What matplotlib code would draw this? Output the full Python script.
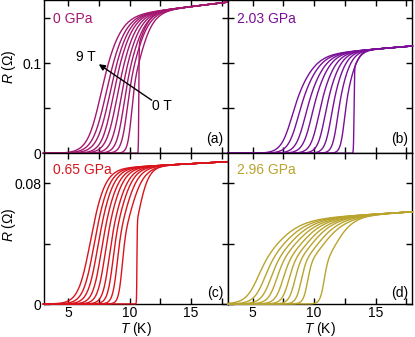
import numpy as np
import matplotlib
matplotlib.use("Agg")
import matplotlib.pyplot as plt
from matplotlib.ticker import MultipleLocator

plt.rcParams['font.family'] = ['Liberation Sans', 'DejaVu Sans']
plt.rcParams['mathtext.fontset'] = 'custom'
plt.rcParams['mathtext.it'] = 'Liberation Sans:italic'
plt.rcParams['mathtext.rm'] = 'Liberation Sans'
plt.rcParams['font.size'] = 10

# magnetic field of each curve (T)
fields = [0, 1, 2, 3, 4, 5, 6, 7, 8, 9]
pressures = ['0 GPa', '2.03 GPa', '0.65 GPa', '2.96 GPa']
tags = ['(a)', '(b)', '(c)', '(d)']
colors = ['#a3176f', '#7a0f98', '#d8141c', '#b9a42e']

# transition midpoint (K) for 0 T ... 9 T
tmid_a = [10.75, 10.43, 10.10, 9.81, 9.51, 9.19, 8.86, 8.56, 8.24, 7.83]
tmid_b = [13.25, 12.65, 12.10, 11.60, 11.10, 10.60, 10.05, 9.55, 9.00, 8.50]
tmid_c = [10.60, 9.67, 9.27, 8.92, 8.60, 8.24, 7.91, 7.57, 7.24, 6.89]
tmid_d = [11.15, 9.88, 9.39, 8.90, 8.44, 7.98, 7.49, 7.03, 6.54, 6.00]

# width of the foot (below midpoint) and of the knee (above midpoint), K
wlow_a = [0.03, 0.42, 0.59, 0.71, 0.83, 0.95, 0.98, 1.10, 1.15, 1.15]
whigh_a = [0.95, 1.25, 1.28, 1.30, 1.33, 1.36, 1.39, 1.42, 1.45, 1.48]
wlow_b = [0.04, 0.40, 0.50, 0.60, 0.68, 0.75, 0.82, 0.88, 0.94, 1.00]
whigh_b = [0.60, 0.80, 0.90, 1.00, 1.10, 1.20, 1.30, 1.40, 1.50, 1.60]
wlow_c = [0.03, 0.40, 0.48, 0.55, 0.62, 0.70, 0.77, 0.85, 0.92, 1.00]
whigh_c = [0.90, 1.25, 1.22, 1.20, 1.20, 1.18, 1.18, 1.16, 1.16, 1.16]
wlow_d = [0.45, 0.50, 0.58, 0.66, 0.74, 0.82, 0.90, 1.00, 1.10, 1.22]
whigh_d = [1.70, 2.30, 2.30, 2.30, 2.35, 2.35, 2.40, 2.40, 2.40, 2.40]

# fraction of R_n reached by the sharp jump (1 = smooth transition)
jump_a = [0.78, 1, 1, 1, 1, 1, 1, 1, 1, 1]
jump_b = [0.83, 1, 1, 1, 1, 1, 1, 1, 1, 1]
jump_c = [0.60, 1, 1, 1, 1, 1, 1, 1, 1, 1]
jump_d = [1, 1, 1, 1, 1, 1, 1, 1, 1, 1]

# normal state resistance: R at T_ref (Ohm), T_ref (K), slope (Ohm/K)
rn_a = (0.158, 12.0, 0.00167)
rn_b = (0.115, 14.3, 0.00115)
rn_c = (0.0922, 13.0, 0.00045)
rn_d = (0.0597, 15.0, 0.0005)

panels = [
    (tmid_a, wlow_a, whigh_a, jump_a, rn_a),
    (tmid_b, wlow_b, whigh_b, jump_b, rn_b),
    (tmid_c, wlow_c, whigh_c, jump_c, rn_c),
    (tmid_d, wlow_d, whigh_d, jump_d, rn_d),
]


def curve(T, tm, wl, wh, sj, rn):
    r0, tref, slope = rn
    base = r0 + slope * (T - tref)
    if sj < 1:
        # vertical jump, then a rounded approach to the normal state
        s = sj * 0.5 * (1 + np.tanh((T - tm) / wl)) \
            + (1 - sj) * np.clip(np.tanh((T - tm) / wh), 0, None)
    else:
        # width grows smoothly from the foot to the knee
        w = wl + (wh - wl) * 0.5 * (1 + np.tanh((T - tm) / wl))
        s = 0.5 * (1 + np.tanh((T - tm) / w))
    return base * s


W, H = 415, 337
fig = plt.figure(figsize=(W / 100, H / 100), dpi=100)
x0, x1, aw = 43.5, 228.0, 184.4
boxes = [
    (x0, 0.3, 153.0), (x1, 0.3, 153.0),
    (x0, 153.3, 150.7), (x1, 153.3, 150.7),
]
axes = []
for (px, py, ph) in boxes:
    axes.append(fig.add_axes([px / W, (H - py - ph) / H, aw / W, ph / H]))

T = np.linspace(3, 18, 3001)

for i, ax in enumerate(axes):
    tm, wl, wh, sj, rn = panels[i]
    for k in range(len(fields)):
        ax.plot(T, curve(T, tm[k], wl[k], wh[k], sj[k], rn), color=colors[i],
                lw=1.0, zorder=3, clip_on=False)
    ax.set_xlim(3, 18)
    ax.xaxis.set_major_locator(MultipleLocator(5))
    ax.xaxis.set_minor_locator(MultipleLocator(2.5))
    if i < 2:
        ax.set_ylim(0, 0.17)
        ax.set_yticks([0, 0.1], ['0', '0.1'])
        ax.yaxis.set_minor_locator(MultipleLocator(0.05))
    else:
        ax.set_ylim(0, 0.1)
        ax.set_yticks([0, 0.08], ['0', '0.08'])
        ax.yaxis.set_minor_locator(MultipleLocator(0.04))
    ax.tick_params(which='both', direction='in', top=True, right=True,
                   length=4, width=1, labelsize=10)
    ax.tick_params(axis='x', pad=1.5)
    ax.tick_params(axis='y', pad=1.5)
    for sp in ax.spines.values():
        sp.set_linewidth(1.0)
    if i % 2 == 1:
        ax.tick_params(labelleft=False)
    if i < 2:
        ax.tick_params(labelbottom=False)
    else:
        ax.set_xlabel(r'$T$ (K)', labelpad=0)
    if i % 2 == 0:
        ax.set_ylabel(r'$R$ (Ω)')
    ax.text(0.05, 0.875 if i < 2 else 0.889, pressures[i], color=colors[i],
            transform=ax.transAxes, ha='left', va='center', fontsize=10)
    ax.text(0.975, 0.095 if i < 2 else 0.072, tags[i], transform=ax.transAxes,
            ha='right', va='center', fontsize=10)

axes[0].yaxis.set_label_coords(-0.137, 0.566)
axes[2].yaxis.set_label_coords(-0.137, 0.524)

axes[0].annotate('', xy=(7.5, 0.099), xytext=(11.8, 0.059),
                 arrowprops=dict(arrowstyle='-|>', color='k', lw=1,
                                 mutation_scale=9, shrinkA=0, shrinkB=0))
axes[0].text(6.43, 0.107, '9 T', ha='center', va='center', fontsize=10)
axes[0].text(12.67, 0.0526, '0 T', ha='center', va='center', fontsize=10)

fig.savefig('out.png', dpi=100)
